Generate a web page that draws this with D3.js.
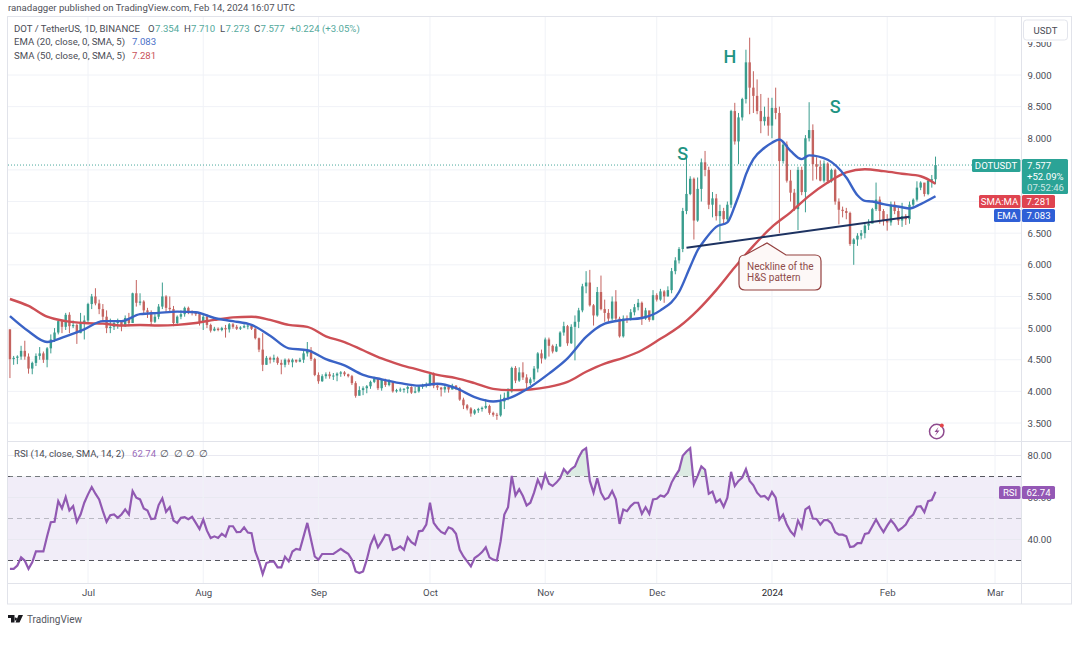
<!DOCTYPE html>
<html>
<head>
<meta charset="utf-8">
<title>DOTUSDT</title>
<script src="https://cdnjs.cloudflare.com/ajax/libs/d3/7.8.5/d3.min.js"></script>
<style>
    html, body { margin: 0; padding: 0; background: #fff; }
    svg { display: block; }
    text { font-family: Roboto, "Open Sans", sans-serif; }
</style>
</head>
<body>
<script>
//SVG dimension variables
var w = 1080, h = 645;

//daily closes, Jun 10 2023 to Feb 14 2024
var firstOpen = 4.98;
var closes = [
    4.51,4.53,4.55,4.64,4.55,4.36,4.45,4.56,4.60,4.50,
    4.68,4.82,4.93,5.11,5.02,5.21,5.03,5.05,4.92,5.08,
    5.12,5.38,5.50,5.39,5.30,5.18,5.00,5.02,5.08,5.10,
    5.03,5.16,5.08,5.55,5.40,5.42,5.28,5.25,5.10,5.18,
    5.34,5.50,5.32,5.30,5.08,5.18,5.22,5.32,5.27,5.24,
    5.22,5.10,5.18,5.05,4.96,4.99,4.97,5.00,4.98,5.06,
    5.02,4.99,5.01,5.03,5.04,4.99,4.84,4.66,4.42,4.53,
    4.50,4.53,4.45,4.42,4.50,4.46,4.50,4.47,4.50,4.60,
    4.65,4.51,4.26,4.16,4.24,4.27,4.24,4.25,4.28,4.30,
    4.27,4.24,4.13,3.93,4.02,4.05,4.08,4.15,4.20,4.05,
    4.18,4.10,4.15,4.00,4.02,4.03,4.04,4.07,3.98,4.00,
    4.08,4.09,4.11,4.27,4.09,4.06,4.03,4.07,4.03,4.09,
    4.05,3.87,3.78,3.73,3.65,3.70,3.72,3.74,3.77,3.66,
    3.63,3.62,3.84,3.90,4.00,4.37,4.17,4.30,4.22,4.13,
    4.19,4.36,4.60,4.52,4.82,4.72,4.63,4.71,4.93,5.03,
    4.76,5.02,5.10,5.28,5.66,5.72,5.36,5.20,5.57,5.30,
    5.24,5.15,5.42,5.15,4.87,5.15,5.13,5.25,5.33,5.40,
    5.15,5.28,5.13,5.52,5.45,5.58,5.50,5.60,5.90,6.07,
    6.25,6.85,7.12,7.36,6.70,7.20,7.62,7.50,6.95,7.05,
    6.77,6.85,6.72,6.95,8.43,7.95,8.33,8.62,9.20,8.80,
    8.67,8.43,8.27,8.34,8.20,8.48,8.40,7.64,7.90,7.33,
    7.14,6.88,7.50,7.15,8.00,8.13,7.59,7.55,7.33,7.60,
    7.32,7.50,7.00,6.87,6.85,6.82,6.33,6.40,6.46,6.50,
    6.62,6.65,6.88,7.03,6.85,6.70,6.67,6.95,6.85,6.70,
    6.77,6.72,6.95,7.03,7.22,7.30,7.12,7.33,7.353,7.577
];
var highs = [
    4.98,4.56,4.57,4.72,4.80,4.60,4.47,4.60,4.70,4.63,
    4.70,4.90,5.00,5.12,5.12,5.24,5.25,5.12,5.07,5.24,
    5.20,5.40,5.54,5.63,5.45,5.38,5.28,5.15,5.12,5.15,
    5.12,5.20,5.24,5.56,5.76,5.55,5.44,5.32,5.28,5.22,
    5.38,5.72,5.52,5.50,5.35,5.20,5.28,5.34,5.34,5.28,
    5.26,5.24,5.22,5.22,5.07,5.02,5.01,5.02,5.05,5.08,
    5.08,5.05,5.03,5.06,5.06,5.05,5.00,4.85,4.92,4.56,
    4.55,4.58,4.55,4.50,4.52,4.52,4.52,4.50,4.53,4.66,
    4.78,4.70,4.53,4.30,4.27,4.30,4.31,4.29,4.30,4.32,
    4.32,4.28,4.26,4.16,4.08,4.08,4.10,4.17,4.23,4.21,
    4.20,4.20,4.19,4.16,4.04,4.06,4.05,4.09,4.08,4.07,
    4.10,4.12,4.14,4.30,4.30,4.13,4.07,4.10,4.09,4.12,
    4.10,4.07,3.90,3.80,3.75,3.72,3.74,3.76,3.88,3.79,
    3.68,3.66,3.95,3.98,4.05,4.39,4.40,4.38,4.46,4.27,
    4.22,4.40,4.62,4.66,4.85,4.85,4.74,4.75,4.95,5.10,
    5.05,5.06,5.20,5.32,5.70,5.90,5.92,5.38,5.65,5.83,
    5.45,5.30,5.50,5.60,5.18,5.20,5.20,5.30,5.38,5.46,
    5.42,5.32,5.25,5.60,5.55,5.62,5.60,5.66,5.95,6.12,
    6.28,6.90,7.70,7.40,7.38,7.38,7.68,7.80,7.55,7.15,
    7.12,6.95,6.90,7.00,8.45,8.56,8.40,8.64,9.40,9.59,
    9.06,8.93,8.70,8.50,8.64,8.64,8.80,8.50,7.95,7.95,
    7.50,7.20,7.55,7.55,8.05,8.57,8.22,7.70,7.65,7.65,
    7.62,7.52,7.52,7.05,6.92,6.90,6.84,6.42,6.50,6.55,
    6.65,6.72,6.90,7.30,7.08,6.88,6.80,7.00,7.00,6.90,
    6.98,6.80,7.00,7.05,7.32,7.32,7.28,7.35,7.42,7.71
];
var lows = [
    4.21,4.42,4.43,4.50,4.50,4.28,4.27,4.40,4.50,4.45,
    4.38,4.60,4.78,4.90,4.92,4.97,4.92,5.00,4.75,4.92,
    4.82,5.08,5.30,5.36,5.22,5.12,4.92,4.92,4.97,4.99,
    4.95,5.02,5.03,5.08,5.34,5.36,5.22,5.16,5.04,5.08,
    5.14,5.30,5.25,5.25,5.03,5.06,5.14,5.18,5.22,5.20,
    5.19,5.04,4.97,5.00,4.93,4.95,4.95,4.95,4.85,4.93,
    4.99,4.97,4.97,5.00,4.98,4.97,4.82,4.62,4.32,4.42,
    4.44,4.46,4.42,4.27,4.38,4.42,4.38,4.45,4.46,4.45,
    4.55,4.48,4.24,4.12,4.15,4.20,4.20,4.18,4.16,4.23,
    4.24,4.22,4.10,3.90,3.97,3.94,3.97,4.04,4.13,4.02,
    4.01,4.07,4.08,3.98,3.98,3.99,3.98,3.97,3.96,3.97,
    3.98,4.04,4.06,4.08,4.05,4.02,3.92,3.98,3.98,4.03,
    4.02,3.85,3.72,3.70,3.60,3.63,3.66,3.68,3.72,3.63,
    3.60,3.55,3.60,3.72,3.86,3.98,4.13,4.15,4.18,4.05,
    4.10,4.15,4.30,4.44,4.50,4.55,4.60,4.62,4.70,4.88,
    4.72,4.75,4.49,5.00,5.25,5.55,5.34,5.04,5.18,5.28,
    5.10,5.10,5.12,5.10,4.85,4.85,5.08,5.12,5.20,5.28,
    5.05,5.13,5.10,5.12,5.42,5.43,5.40,5.50,5.55,5.85,
    6.02,6.20,6.80,7.10,6.40,6.68,7.00,7.40,6.88,6.75,
    6.70,6.38,6.65,6.68,6.90,7.90,7.59,8.28,8.55,8.38,
    8.40,8.38,8.08,8.20,8.04,8.00,8.30,6.50,7.60,7.30,
    7.00,6.85,6.55,7.10,6.83,7.95,7.33,7.35,7.32,7.30,
    7.28,7.30,6.95,6.64,6.75,6.72,6.30,6.00,6.30,6.40,
    6.42,6.55,6.67,6.85,6.65,6.62,6.54,6.62,6.80,6.63,
    6.60,6.63,6.65,6.92,7.00,7.18,7.08,7.10,7.22,7.273
];

//moving averages, read every few candles
var emaDays = [0,5,10,15,20,25,30,35,40,45,50,55,60,65,70,75,80,85,90,95,100,105,110,115,120,125,
    130,135,140,145,150,155,160,165,170,175,180,183,185,187,190,193,195,197,198,200,203,205,207,210,213,215,220,225,228,230,232,235,240,242,245,249];
var emaValues = [5.19,4.95,4.78,4.87,4.98,5.11,5.11,5.22,5.24,5.26,5.25,5.16,5.11,5.05,4.88,4.68,4.65,4.51,4.41,4.26,4.19,4.13,4.09,4.12,4.05,3.91,
    3.84,3.91,4.07,4.28,4.52,4.86,5.07,5.13,5.16,5.28,5.57,5.97,6.23,6.40,6.60,6.67,6.93,7.25,7.43,7.67,7.85,7.93,7.98,7.80,7.67,7.73,7.66,7.38,7.10,7.01,7.00,6.96,6.91,6.89,6.96,7.083];
var smaDays = [0,5,10,15,20,25,30,35,40,45,50,55,60,65,70,75,80,85,90,95,100,105,110,115,120,125,
    130,135,140,145,150,155,160,165,170,175,180,185,190,195,200,205,210,215,220,225,230,235,240,245,249];
var smaValues = [5.46,5.35,5.18,5.11,5.08,5.07,5.04,5.05,5.04,5.05,5.08,5.13,5.17,5.18,5.13,5.05,5.02,4.87,4.78,4.65,4.52,4.42,4.34,4.26,4.21,4.13,
    4.04,4.02,4.03,4.07,4.15,4.31,4.44,4.53,4.65,4.83,5.02,5.28,5.60,5.96,6.30,6.60,6.83,7.09,7.30,7.46,7.51,7.48,7.44,7.40,7.281];

//RSI for every candle
var rsiValues = [
    26,26,27.6,31.5,29.9,26,29.1,34.3,34.3,34.3,
    41.5,48.2,48.4,58.3,54.8,60.2,53.8,55.9,48.4,51.9,
    57.5,61.5,65,61.8,59.1,53.5,48.4,51.6,51.9,50.3,
    51.9,54.3,51.9,63.1,59.9,59.1,54.8,53.8,49.7,50,
    56.4,59.6,53.2,55.4,49,47.9,50.3,50.6,49.7,50.8,
    47.9,45,49.5,44.2,40.7,41.5,40.7,42.7,41.4,46.3,
    46.3,43.5,43.6,45.8,43.3,43,34.3,29.6,23.5,28.8,
    29.4,29.6,26.7,26.7,31.8,29.6,34.3,35.5,35.1,41.5,
    47.9,39.9,31.9,30.4,33.1,33.1,33.1,33.1,34.3,35.6,
    34.3,33.2,30.4,24.8,24,24.8,30.4,37.5,41.5,36.3,
    39.1,42.3,41.9,35.1,35.6,36.7,35.1,41,38.7,37.5,
    43.9,44.2,47.1,57.5,47.9,45.5,43.6,42.7,45.8,45,
    42.7,35.1,31.9,29.6,27.2,31.2,32.4,34,36.3,31.5,
    30.4,30,39.1,51.9,55.4,70.3,61,63.9,60.7,56.2,
    57.5,62.3,68.4,64.7,71.1,66.6,65.5,67.1,69.2,73.5,
    71.4,73.5,74.8,79.1,82.3,83.5,67.9,62.3,69.2,62.3,
    59.1,59.9,63.1,59.1,47.4,54.3,53.5,55.9,57.5,57.5,
    52.2,55.4,52.2,59.1,59.4,61,60.4,62.3,67.1,70.3,
    73,79.9,81.9,83.5,66.3,70.3,74.8,73.2,61.8,62.8,
    57.8,59.1,55.6,59.9,72.2,65.5,67.9,69.5,73.5,67.9,
    65.8,62.3,60.4,60.7,59.1,62.6,59.9,49.5,51.9,47.1,
    43.9,41.9,49,45.5,54.3,55.6,50,49.8,47.1,49.2,
    49.2,47.6,43.5,42.3,42.3,41.5,36.4,36.7,38.3,38.3,
    42.7,43.1,46.3,49.5,46.3,43.5,46.6,49.2,47.1,44.2,
    45.5,47.1,50.3,51.9,55.6,55.9,53,58.3,58.8,62.74
];

//axis labels and annotation data
var priceGrid = [3.5,4,4.5,5,5.5,6,6.5,7,7.5,8,8.5,9];
var priceTicks = [3.5,4,4.5,5,5.5,6,6.5,8,8.5,9,9.5]; //7.000 and 7.500 sit under the tags
var rsiTicks = [40,60,80];
var monthDates = ["2023-07-01","2023-08-01","2023-09-01","2023-10-01","2023-11-01","2023-12-01","2024-01-01","2024-02-01","2024-03-01"];
var monthLabels = ["Jul","Aug","Sep","Oct","Nov","Dec","2024","Feb","Mar"];
var necklineDays = [182,242];
var necklineValues = [6.27,6.76];
var patternNames = ["S","H","S"];
var patternDays = [181,193.7,222];
var patternValues = [7.66,9.19,8.4];

var parseDay = d3.utcParse("%Y-%m-%d");
var firstDay = parseDay("2023-06-10");

var svg = d3.select("body").append("svg")
    .attr("width", w)
    .attr("height", h);

//time and price scales shared by both panes
var x = d3.scaleUtc()
    .domain([parseDay(monthDates[0]), parseDay(monthDates[8])])
    .range([88, 995]);
var y = d3.scaleLinear().domain([3.5, 9]).range([423, 75]);
var yRsi = d3.scaleLinear().domain([40, 80]).range([539.5, 455.5]);

function dayX(i){
    return x(firstDay.getTime() + i * 864e5);
}

var candles = closes.map(function(c, i){
    return {i: i, open: i == 0 ? firstOpen : closes[i - 1], close: c, high: highs[i], low: lows[i]};
});

var gridColor = "#f0f2f7", frameColor = "#e1e3ea", up = "#3a9d8e", down = "#c4635f";
var textColor = "#4a4c55";
var fontSize = "9.6px";

//horizontal grid, price pane
svg.append("g").selectAll("line").data(priceGrid).enter().append("line")
    .attr("x1", 8).attr("x2", 1021)
    .attr("y1", function(d){ return y(d); })
    .attr("y2", function(d){ return y(d); })
    .style("stroke", gridColor);

//RSI band goes under the grid lines
svg.append("rect")
    .attr("x", 8).attr("width", 1013)
    .attr("y", yRsi(70)).attr("height", yRsi(30) - yRsi(70))
    .style("fill", "#f1edf8");

svg.append("g").selectAll("line").data(rsiTicks).enter().append("line")
    .attr("x1", 8).attr("x2", 1021)
    .attr("y1", function(d){ return yRsi(d); })
    .attr("y2", function(d){ return yRsi(d); })
    .style("stroke", "#e9e9f1");

//month grid through both panes
svg.append("g").selectAll("line").data(monthDates).enter().append("line")
    .attr("x1", function(d){ return x(parseDay(d)); })
    .attr("x2", function(d){ return x(parseDay(d)); })
    .attr("y1", 17).attr("y2", 583)
    .style("stroke", gridColor);

//frame and pane separators
var frame = svg.append("g").style("stroke", frameColor).style("fill", "none");
frame.append("rect").attr("x", 7.5).attr("y", 16.5).attr("width", 1064).attr("height", 587.5);
frame.append("line").attr("x1", 1021.5).attr("x2", 1021.5).attr("y1", 17).attr("y2", 604);
frame.append("line").attr("x1", 8).attr("x2", 1071).attr("y1", 441.5).attr("y2", 441.5);
frame.append("line").attr("x1", 8).attr("x2", 1071).attr("y1", 583.5).attr("y2", 583.5);

//last price dotted line
svg.append("line")
    .attr("x1", 8).attr("x2", 1021)
    .attr("y1", y(7.577)).attr("y2", y(7.577))
    .style("stroke", "#4aa89c")
    .style("stroke-dasharray", "1 2");

//candles: wick first, then body
var candle = svg.append("g").selectAll("g").data(candles).enter().append("g")
    .style("stroke", function(d){ return d.close >= d.open ? up : down; })
    .style("fill", function(d){ return d.close >= d.open ? up : down; });

candle.append("line")
    .attr("x1", function(d){ return dayX(d.i); })
    .attr("x2", function(d){ return dayX(d.i); })
    .attr("y1", function(d){ return y(d.high); })
    .attr("y2", function(d){ return y(d.low); })
    .style("stroke-width", 1);

candle.append("rect")
    .attr("x", function(d){ return dayX(d.i) - 1.2; })
    .attr("width", 2.4)
    .attr("y", function(d){ return y(Math.max(d.open, d.close)); })
    .attr("height", function(d){ return Math.max(1, Math.abs(y(d.open) - y(d.close))); })
    .style("stroke", "none");

//moving averages
var maLine = d3.line()
    .x(function(d){ return dayX(d[0]); })
    .y(function(d){ return y(d[1]); })
    .curve(d3.curveMonotoneX);

svg.append("path")
    .datum(d3.zip(smaDays, smaValues))
    .attr("d", maLine)
    .style("fill", "none").style("stroke", "#cd4f55").style("stroke-width", 2.4);

svg.append("path")
    .datum(d3.zip(emaDays, emaValues))
    .attr("d", maLine)
    .style("fill", "none").style("stroke", "#3a63c6").style("stroke-width", 2.4);

//neckline
svg.append("line")
    .attr("x1", dayX(necklineDays[0])).attr("x2", dayX(necklineDays[1]))
    .attr("y1", y(necklineValues[0])).attr("y2", y(necklineValues[1]))
    .style("stroke", "#1d3261").style("stroke-width", 2);

//S H S letters
svg.append("g").selectAll("text").data(patternNames).enter().append("text")
    .attr("x", function(d, i){ return dayX(patternDays[i]); })
    .attr("y", function(d, i){ return y(patternValues[i]); })
    .attr("text-anchor", "middle")
    .style("font-size", "18px")
    .style("font-weight", 500)
    .style("fill", "#1f9483")
    .text(function(d){ return d; });

//callout with pointer
svg.append("path")
    .attr("d", "M745,255 L767,243 L786,255 L815,255 Q821,255 821,261 L821,284 Q821,290 815,290 L745,290 Q739,290 739,284 L739,261 Q739,255 745,255 Z")
    .style("fill", "#fdf8f7").style("stroke", "#93403f").style("stroke-width", 1.2);
svg.append("text").attr("x", 747).attr("y", 270).style("font-size", "10px").style("fill", "#8f4c4b").text("Neckline of the");
svg.append("text").attr("x", 747).attr("y", 280.5).style("font-size", "10px").style("fill", "#8f4c4b").text("H&S pattern");

//RSI levels
svg.append("g").selectAll("line").data([70, 50, 30]).enter().append("line")
    .attr("x1", 8).attr("x2", 1021)
    .attr("y1", function(d){ return yRsi(d); })
    .attr("y2", function(d){ return yRsi(d); })
    .style("stroke", function(d){ return d == 50 ? "#b9b9c2" : "#55565e"; })
    .style("stroke-dasharray", "5 4");

//RSI overbought shading, clipped above the 70 level
svg.append("clipPath").attr("id", "overbought").append("rect")
    .attr("x", 8).attr("y", 442).attr("width", 1013).attr("height", yRsi(70) - 442);

svg.append("path")
    .datum(rsiValues)
    .attr("clip-path", "url(#overbought)")
    .attr("d", d3.area()
        .x(function(d, i){ return dayX(i); })
        .y0(yRsi(70))
        .y1(function(d){ return yRsi(d); }))
    .style("fill", "#dcebe3");

svg.append("path")
    .datum(rsiValues)
    .attr("d", d3.line()
        .x(function(d, i){ return dayX(i); })
        .y(function(d){ return yRsi(d); }))
    .style("fill", "none").style("stroke", "#9159b2").style("stroke-width", 2.2);

//axes
var priceAxis = svg.append("g")
    .attr("transform", "translate(1021.5,0)")
    .call(d3.axisRight(y).tickValues(priceTicks).tickSize(0).tickPadding(6).tickFormat(d3.format(".3f")));

var rsiAxis = svg.append("g")
    .attr("transform", "translate(1021.5,0)")
    .call(d3.axisRight(yRsi).tickValues(rsiTicks).tickSize(0).tickPadding(6).tickFormat(d3.format(".2f")));

var timeAxis = svg.append("g")
    .attr("transform", "translate(0,586)")
    .call(d3.axisBottom(x).tickValues(monthDates.map(parseDay)).tickSize(0).tickPadding(3.5)
        .tickFormat(function(d, i){ return monthLabels[i]; }));

[priceAxis, rsiAxis, timeAxis].forEach(function(a){
    a.select(".domain").remove();
    a.selectAll("text").style("font-family", "Roboto").style("font-size", fontSize).style("fill", textColor);
});
//the year label is darker on the time axis
timeAxis.selectAll("text").filter(function(d, i){ return monthLabels[i] == "2024"; }).style("fill", "#26272c");

//USDT box covers the top of the 9.500 tick
svg.append("rect").attr("x", 1022.5).attr("y", 17).attr("width", 48).attr("height", 25)
    .style("fill", "#fff");
svg.append("rect").attr("x", 1023.5).attr("y", 20).attr("width", 44).attr("height", 20).attr("rx", 3)
    .style("fill", "#fff").style("stroke", "#e3e5ec");
svg.append("text").attr("x", 1045.5).attr("y", 33.5).attr("text-anchor", "middle")
    .style("font-size", fontSize).style("fill", textColor).text("USDT");

//value tags on the right
function tag(x0, x1, y0, y1, color){
    svg.append("rect").attr("x", x0).attr("y", y0).attr("width", x1 - x0).attr("height", y1 - y0).attr("rx", 1.5)
        .style("fill", color);
}
function tagText(str, cx, ty){
    svg.append("text").attr("x", cx).attr("y", ty).attr("text-anchor", "middle")
        .style("font-size", fontSize).style("fill", "#fff").text(str);
}
tag(972, 1020.5, 159, 172, "#2ba396");
tag(1022, 1068, 159, 194, "#2ba396");
tagText("DOTUSDT", 996, 169);
svg.append("g").selectAll("text").data(["7.577", "+52.09%", "07:52:46"]).enter().append("text")
    .attr("x", 1027)
    .attr("y", function(d, i){ return 169 + i * 11; })
    .style("font-size", fontSize).style("fill", "#fff")
    .style("opacity", function(d, i){ return i == 2 ? 0.75 : 1; })
    .text(function(d){ return d; });

tag(979, 1020.5, 195, 208, "#df4450");
tag(1022, 1055, 195, 208, "#df4450");
tagText("SMA:MA", 999.5, 205);
tagText("7.281", 1038.5, 205);

tag(994, 1020.5, 209, 222, "#2f5fd6");
tag(1022, 1055, 209, 222, "#2f5fd6");
tagText("EMA", 1007, 219);
tagText("7.083", 1038.5, 219);

tag(999, 1020.5, 486, 499, "#9458b5");
tag(1022, 1055, 486, 499, "#9458b5");
tagText("RSI", 1010, 496);
tagText("62.74", 1038.5, 496);

//header line
svg.append("text").attr("x", 8).attr("y", 10.5)
    .style("font-size", fontSize).style("fill", "#4f5159")
    .text("ranadagger published on TradingView.com, Feb 14, 2024 16:07 UTC");

//legend rows
function legend(str, lx, ly, color){
    svg.append("text").attr("x", lx).attr("y", ly)
        .style("font-size", fontSize).style("fill", color).text(str);
}
var green = "#53a99c";
legend("DOT / TetherUS, 1D, BINANCE", 14, 31.5, textColor);
legend("O", 148, 31.5, textColor); legend("7.354", 155, 31.5, green);
legend("H", 184, 31.5, textColor); legend("7.710", 191, 31.5, green);
legend("L", 220, 31.5, textColor); legend("7.273", 225.5, 31.5, green);
legend("C", 254, 31.5, textColor); legend("7.577", 260.5, 31.5, green);
legend("+0.224 (+3.05%)", 290, 31.5, green);
legend("EMA (20, close, 0, SMA, 5)", 14, 45, textColor);
legend("7.083", 132, 45, "#4a70c8");
legend("SMA (50, close, 0, SMA, 5)", 14, 58.5, textColor);
legend("7.281", 132, 58.5, "#c9525a");
legend("RSI (14, close, SMA, 14, 2)", 14, 457, textColor);
legend("62.74", 132, 457, "#9a6cba");
legend("∅", 160, 457, textColor);
legend("∅", 174, 457, textColor);
legend("∅", 186, 457, textColor);
legend("∅", 199, 457, textColor);

//lightning badge
svg.append("circle").attr("cx", 936.7).attr("cy", 431.5).attr("r", 7.2)
    .style("fill", "#fff").style("stroke", "#8e4a8e").style("stroke-width", 1.5);
svg.append("path").attr("d", "M938.5,427 L934.5,432 L937,432 L935,436 L939.5,430.5 L937,430.5 Z").style("fill", "#8e4a8e");
svg.append("circle").attr("cx", 941.8).attr("cy", 425.5).attr("r", 2).style("fill", "#e2454a");

//TradingView mark
svg.append("path").attr("d", "M8,615 L14.5,615 L14.5,622.5 L11,622.5 L11,618 L8,618 Z M15.5,617.5 a1.5,1.5 0 1,0 0.01,0 Z M18.5,615 L23,615 L19.5,622.5 L15.5,622.5 Z")
    .style("fill", "#1a1a1f");
svg.append("text").attr("x", 27).attr("y", 622.5)
    .style("font-size", "10px").style("fill", "#55575f").text("TradingView");
</script>
</body>
</html>
